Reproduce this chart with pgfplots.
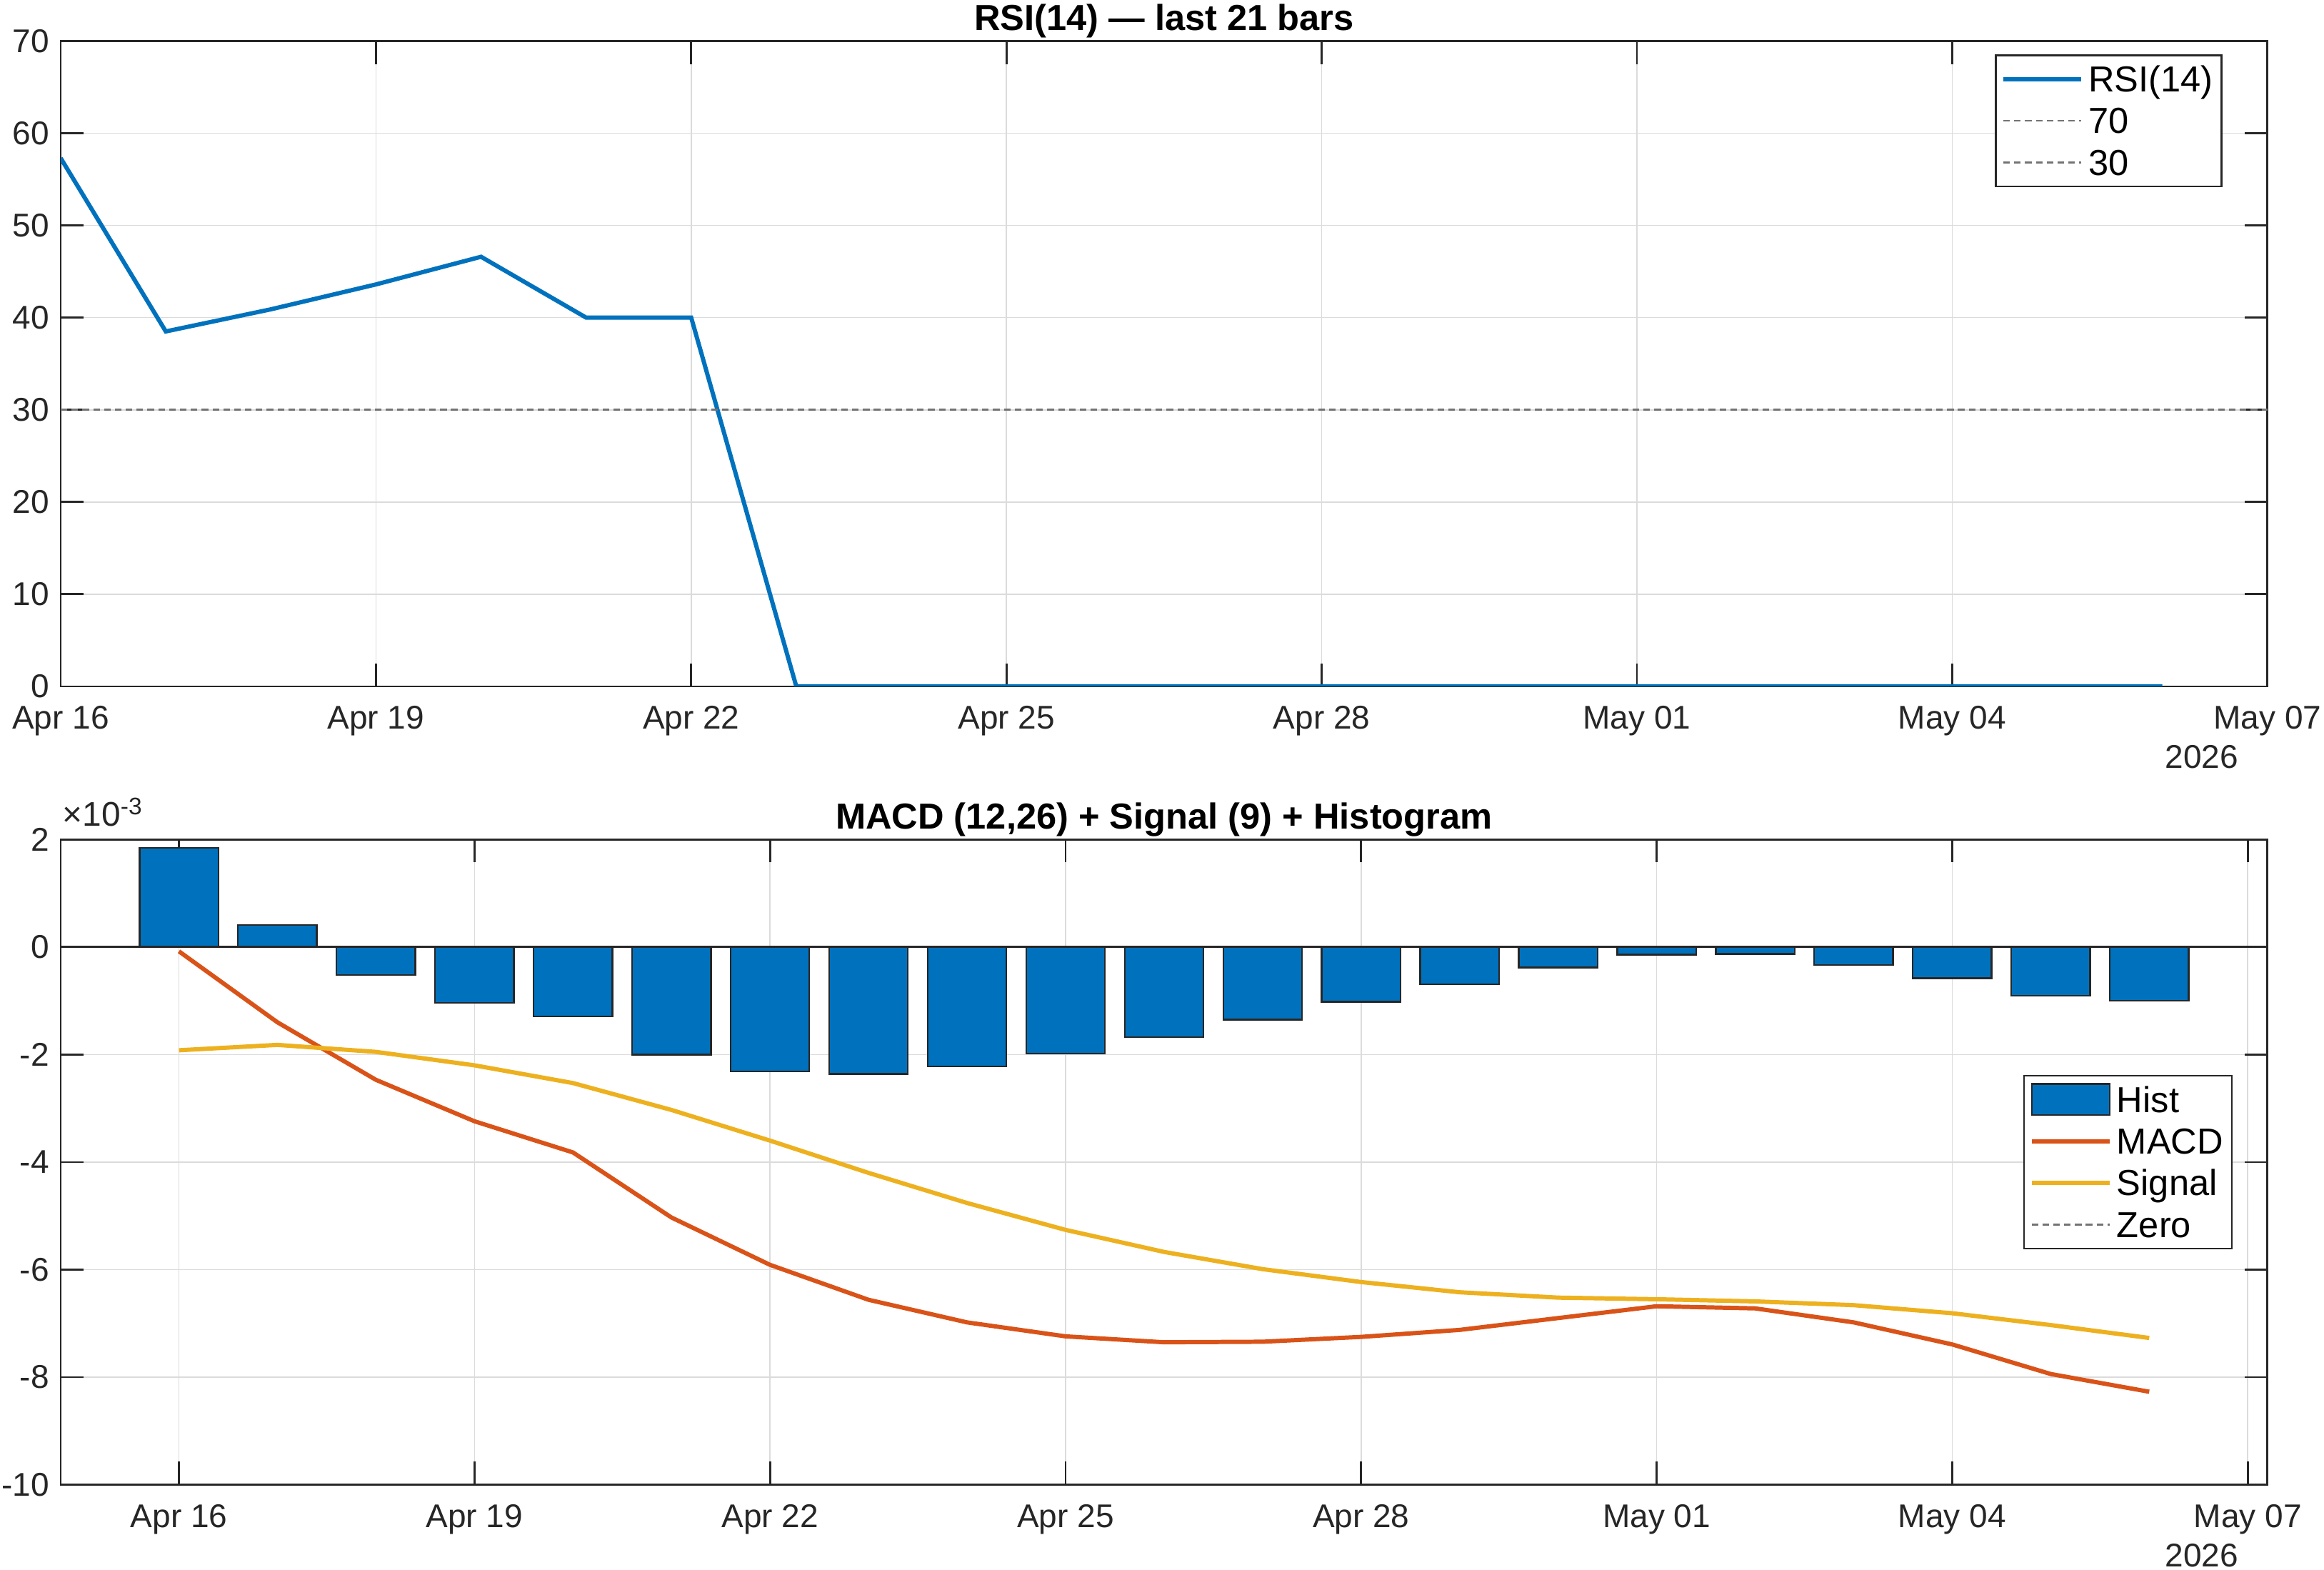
\documentclass[border=0pt]{standalone}
\usepackage{pgfplots}
\pgfplotsset{compat=1.18}
\usepackage{pgfplotstable}
\usepackage{fontspec}
\setmainfont{Liberation Sans}
\definecolor{mblue}{rgb}{0,0.447,0.741}
\definecolor{morange}{rgb}{0.85,0.325,0.098}
\definecolor{myellow}{rgb}{0.929,0.694,0.125}
\definecolor{axc}{rgb}{0.15,0.15,0.15}
\definecolor{gridc}{rgb}{0.86,0.86,0.86}
\definecolor{dashc}{rgb}{0.45,0.45,0.45}

\pgfplotstableread{
x rsi
0 57.3
1 38.5
2 40.9
3 43.6
4 46.6
5 40.0
6 40.0
7 0
8 0
9 0
10 0
11 0
12 0
13 0
14 0
15 0
16 0
17 0
18 0
19 0
20 0
}\rsidata

\pgfplotstableread{
x hist macd signal
0 1.84 -0.08 -1.92
1 0.41 -1.40 -1.82
2 -0.52 -2.47 -1.95
3 -1.04 -3.24 -2.20
4 -1.29 -3.82 -2.53
5 -2.00 -5.03 -3.03
6 -2.31 -5.91 -3.60
7 -2.36 -6.56 -4.20
8 -2.22 -6.98 -4.76
9 -1.98 -7.24 -5.26
10 -1.68 -7.35 -5.67
11 -1.35 -7.34 -5.99
12 -1.02 -7.25 -6.23
13 -0.69 -7.12 -6.42
14 -0.38 -6.90 -6.52
15 -0.14 -6.68 -6.55
16 -0.13 -6.72 -6.59
17 -0.33 -6.98 -6.66
18 -0.58 -7.39 -6.81
19 -0.91 -7.94 -7.03
20 -1.00 -8.27 -7.27
}\macddata

\pgfplotsset{
  mystyle/.style={
    scale only axis, width=671.7pt, height=196.4pt,
    anchor=south west,
    clip mode=individual,
    axis line style={axc, line width=0.6pt},
    tick style={axc, line width=0.6pt},
    major tick length=7pt,
    tick align=inside,
    xtick pos=both, ytick pos=both,
    grid=major,
    major grid style={gridc, line width=0.35pt},
    ticklabel style={font=\fontsize{10}{12}\selectfont, text=axc},
    xticklabel style={yshift=-2.4pt},
    /pgf/number format/assume math mode=true,
    title style={font=\bfseries\fontsize{11}{13}\selectfont, text=black, at={(0.5,1)}, anchor=base, yshift=-2.7pt, inner sep=0pt},
    xtick={0,3,...,21},
    xticklabels={Apr 16,Apr 19,Apr 22,Apr 25,Apr 28,May 01,May 04,May 07},
    legend cell align=left,
    legend style={draw=axc, line width=0.5pt, fill=white, text=black,
      font=\fontsize{11}{13}\selectfont,
      inner xsep=1.6pt, inner ysep=0.9pt, row sep=0pt, column sep=0.6pt,
      nodes={inner sep=1pt, text height=9.2pt, text depth=1.5pt}},
    legend image code/.code={\draw[#1] (0pt,0.05pt) -- (23.7pt,0.05pt);},
  }
}

\begin{document}
\begin{tikzpicture}
\begin{axis}[mystyle,
  at={(18.48pt,268.9pt)},
  xmin=0, xmax=21, ymin=0, ymax=70,
  ytick={0,10,...,70},
  title={RSI(14) — last 21 bars},
  legend style={at={(1,1)}, anchor=north east, xshift=-13.7pt, yshift=-4.1pt},
]
\addplot[mblue, line width=1.3pt] table[x=x, y=rsi] {\rsidata};
\addlegendentry{RSI(14)}
\addplot[dashc, line width=0.6pt, dash pattern=on 2pt off 1.3pt] coordinates {(0,70) (21,70)};
\addlegendentry{70}
\addplot[dashc, line width=0.6pt, dash pattern=on 2pt off 1.3pt] coordinates {(0,30) (21,30)};
\addlegendentry{30}
\draw[axc, line width=0.6pt] (rel axis cs:0,1) -- (rel axis cs:1,1);
\node[anchor=north east, inner sep=0pt, font=\fontsize{10}{12}\selectfont, text=axc] at (rel axis cs:1,0) [xshift=-8.7pt, yshift=-17.8pt] {2026};
\end{axis}

\begin{axis}[mystyle,
  at={(18.48pt,25.9pt)},
  xmin=-1.2, xmax=21.2, ymin=-10, ymax=2,
  ytick={-10,-8,...,2},
  title={MACD (12,26) + Signal (9) + Histogram},
  legend style={at={(1,0.5)}, anchor=east, xshift=-10.6pt},
]
\addplot[ybar, bar width=0.8, bar shift=0pt, fill=mblue, draw=axc, line width=0.5pt,
  legend image code/.code={\draw[fill=mblue, draw=axc, line width=0.5pt] (0.1pt,-4.65pt) rectangle (23.8pt,4.75pt);}]
  table[x=x, y=hist] {\macddata};
\addlegendentry{Hist}
\addplot[morange, line width=1.3pt] table[x=x, y=macd] {\macddata};
\addlegendentry{MACD}
\addplot[myellow, line width=1.3pt] table[x=x, y=signal] {\macddata};
\addlegendentry{Signal}
\addplot[dashc, line width=0.6pt, dash pattern=on 2pt off 1.3pt] coordinates {(-1.2,0) (21.2,0)};
\addlegendentry{Zero}
\addplot[axc, line width=0.6pt, forget plot] coordinates {(-1.2,0) (21.2,0)};
\node[anchor=base west, inner sep=0pt, font=\fontsize{10.4}{12}\selectfont, text=axc] at (rel axis cs:0,1) [xshift=0.4pt, yshift=4pt] {×10\textsuperscript{-3}};
\node[anchor=north east, inner sep=0pt, font=\fontsize{10}{12}\selectfont, text=axc] at (rel axis cs:1,0) [xshift=-8.7pt, yshift=-17.8pt] {2026};
\end{axis}
\pgfresetboundingbox
\path[use as bounding box] (0,0) rectangle (707.4pt,477.8pt);
\end{tikzpicture}
\end{document}
